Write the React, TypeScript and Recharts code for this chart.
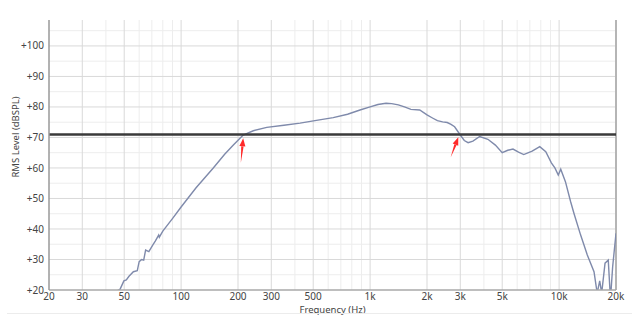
import { LineChart, Line, XAxis, YAxis, ReferenceLine } from 'recharts';

const freqs = [
  45, 47.5, 49.8, 51.3, 53, 55.9, 58.6, 60, 61.8, 63.4, 64.9, 67.5, 70.9, 73, 76.1, 76.7, 80, 90, 100,
  120, 148, 170, 189, 213, 241, 284, 350, 426, 520, 638, 760, 884, 1000, 1100, 1214, 1300, 1410, 1520,
  1644, 1830, 2000, 2150, 2270, 2420, 2560, 2680, 2800, 3000, 3150, 3300, 3500, 3800, 4200, 4600, 5000,
  5350, 5700, 6100, 6500, 7200, 7900, 8500, 9100, 9500, 9900, 10200, 10800, 11500, 12000, 13000, 13500,
  14100, 15300, 15900, 16400, 16800, 17500, 18200, 18700, 19200, 20000,
];
const levels = [
  19.5, 20.2, 23, 23.3, 24.5, 26, 26.3, 29.3, 30, 29.8, 33.1, 32.6, 34.8, 36, 38, 37.3, 39.3, 43.4, 47.2,
  53.5, 60, 64.5, 67.5, 70.8, 72.2, 73.3, 74, 74.7, 75.6, 76.5, 77.6, 79, 80, 80.8, 81.2, 81.1, 80.7, 80,
  79.2, 79, 77.4, 76.3, 75.5, 75.1, 74.9, 74.3, 73.5, 70.8, 69, 68.3, 68.8, 70.3, 69.4, 67.5, 65,
  65.8, 66.2, 65.2, 64.4, 65.5, 67, 65.3, 61.7, 60, 57.7, 59.6, 55.5, 49, 45, 38, 35,
  31.5, 26, 19, 23, 19, 28.8, 29.8, 17, 27.6, 38.6,
];

const xTicks = [20, 30, 50, 100, 200, 300, 500, 1000, 2000, 3000, 5000, 10000, 20000];
const xMinor = [40, 60, 70, 80, 90, 400, 600, 700, 800, 900, 4000, 6000, 7000, 8000, 9000];
const yTicks = [20, 30, 40, 50, 60, 70, 80, 90, 100];
const yMinor = [25, 35, 45, 55, 65, 75, 85, 95, 105];
const threshold = 71;

// red arrows: [tail freq, tail dB, tip freq, tip dB]
const arrows = [
  [207, 61.7, 213, 69.7],
  [2670, 63.5, 2928, 70.1],
];

const data = freqs.map((f, i) => ({ f, db: levels[i] }));

const fmtHz = (v: number) => (v >= 1000 ? `${v / 1000}k` : `${v}`);

const Arrow = (props: any) => {
  const { x1, y1, x2, y2 } = props;
  const dx = x2 - x1;
  const dy = y2 - y1;
  const len = Math.sqrt(dx * dx + dy * dy) || 1;
  const ux = dx / len;
  const uy = dy / len;
  const hx = x2 - ux * 8;
  const hy = y2 - uy * 8;
  const px = -uy;
  const py = ux;
  const head = `${x2},${y2} ${hx + px * 3},${hy + py * 3} ${hx - px * 3},${hy - py * 3}`;
  const shaft = `${hx + px * 1.2},${hy + py * 1.2} ${x1},${y1} ${hx - px * 1.2},${hy - py * 1.2}`;
  return (
    <g>
      <polygon points={head} fill="#ff2a2a" />
      <polygon points={shaft} fill="#ff2a2a" />
    </g>
  );
};

const YLabel = () => (
  <text
    x={16}
    y={137}
    transform="rotate(-90 16 137)"
    textAnchor="middle"
    dominantBaseline="middle"
    fontSize={9.5}
    fill="#444"
  >
    RMS Level (dBSPL)
  </text>
);

export default function App() {
  return (
    <div style={{ position: 'absolute', left: 0, top: 0, width: 640, height: 324, background: '#fff', fontFamily: '"Noto Sans", sans-serif' }}>
      <LineChart width={640} height={324} data={data} margin={{ top: 20, right: 24, bottom: 0, left: 0 }}>
        <XAxis
          dataKey="f"
          type="number"
          scale="log"
          domain={[20, 20000]}
          allowDataOverflow
          ticks={xTicks}
          tickFormatter={fmtHz}
          interval={0}
          height={34}
          tickLine={false}
          tickSize={0}
          tickMargin={3}
          axisLine={{ stroke: '#a8a8a8', strokeWidth: 1.5 }}
          tick={{ fontSize: 10, fill: '#444' }}
          label={{ value: 'Frequency (Hz)', position: 'insideBottom', offset: 11, fontSize: 9.5, fill: '#444' }}
        />
        <YAxis
          type="number"
          domain={[20, 108.5]}
          allowDataOverflow
          ticks={yTicks}
          interval={0}
          width={49}
          tickLine={false}
          tickSize={0}
          tickMargin={5}
          tickFormatter={(v: number) => `+${v}`}
          axisLine={{ stroke: '#999', strokeWidth: 1.5 }}
          tick={{ fontSize: 10, fill: '#444' }}
          label={<YLabel />}
        />
        {yMinor.map((v) => (
          <ReferenceLine key={`ym${v}`} y={v} stroke="#ededed" strokeWidth={1} />
        ))}
        {xMinor.map((v) => (
          <ReferenceLine key={`xm${v}`} x={v} stroke="#ededed" strokeWidth={1} />
        ))}
        {yTicks.slice(1).map((v) => (
          <ReferenceLine key={`y${v}`} y={v} stroke="#d9d9d9" strokeWidth={1} />
        ))}
        {xTicks.slice(1, -1).map((v) => (
          <ReferenceLine key={`x${v}`} x={v} stroke="#d9d9d9" strokeWidth={1} />
        ))}
        <ReferenceLine x={20000} stroke="#b5b5b5" strokeWidth={2} />
        <Line
          type="linear"
          dataKey="db"
          stroke="#7f8aab"
          strokeWidth={1.4}
          dot={false}
          isAnimationActive={false}
        />
        <ReferenceLine y={threshold} stroke="#3a3a3a" strokeWidth={2.5} />
        {arrows.map(([fa, da, fb, dbv], i) => (
          <ReferenceLine
            key={`a${i}`}
            segment={[
              { x: fa, y: da },
              { x: fb, y: dbv },
            ]}
            shape={Arrow}
          />
        ))}
      </LineChart>
      <div style={{ position: 'absolute', left: 7, top: 313, width: 625, height: 1, background: '#ececec' }} />
    </div>
  );
}
